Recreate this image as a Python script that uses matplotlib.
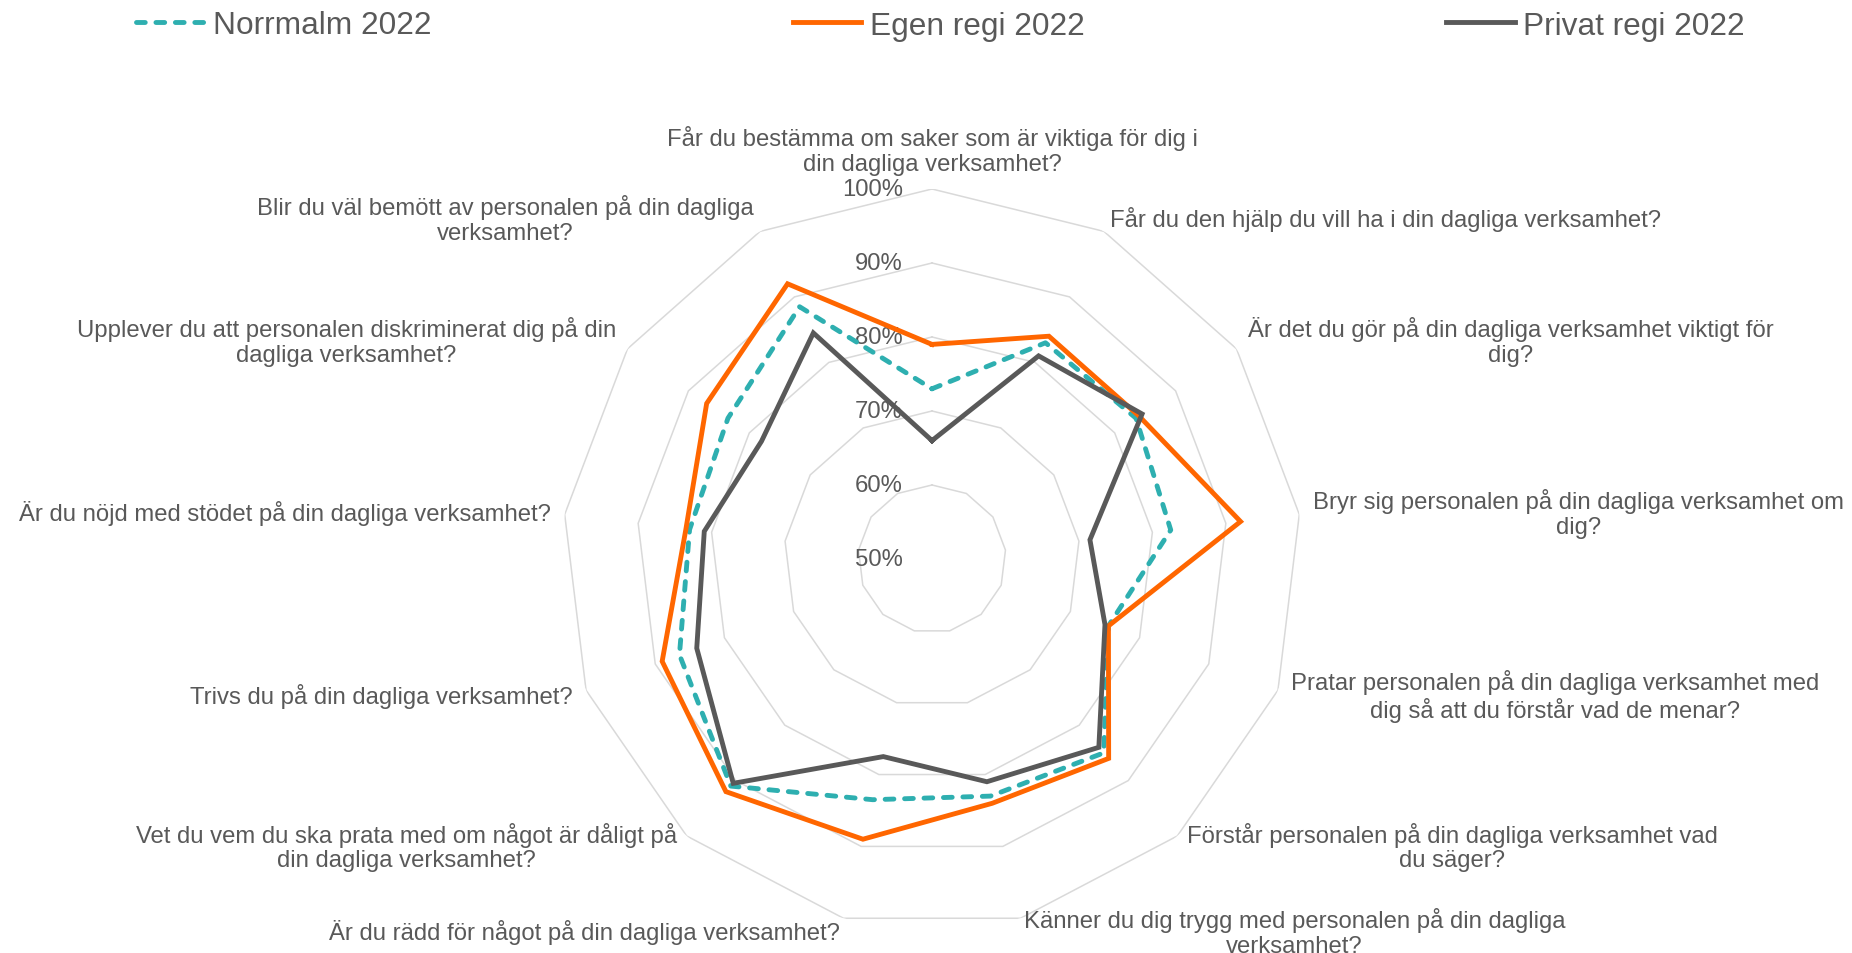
import numpy as np
import matplotlib
matplotlib.use("Agg")
import matplotlib.pyplot as plt
from matplotlib.transforms import ScaledTranslation

# ---------------- data ----------------
categories = [
    "Får du bestämma om saker som är viktiga för dig i\ndin dagliga verksamhet?",
    "Får du den hjälp du vill ha i din dagliga verksamhet?",
    "Är det du gör på din dagliga verksamhet viktigt för\ndig?",
    "Bryr sig personalen på din dagliga verksamhet om\ndig?",
    "Pratar personalen på din dagliga verksamhet med\ndig så att du förstår vad de menar?",
    "Förstår personalen på din dagliga verksamhet vad\ndu säger?",
    "Känner du dig trygg med personalen på din dagliga\nverksamhet?",
    "Är du rädd för något på din dagliga verksamhet?",
    "Vet du vem du ska prata med om något är dåligt på\ndin dagliga verksamhet?",
    "Trivs du på din dagliga verksamhet?",
    "Är du nöjd med stödet på din dagliga verksamhet?",
    "Upplever du att personalen diskriminerat dig på din\ndagliga verksamhet?",
    "Blir du väl bemött av personalen på din dagliga\nverksamhet?",
]
norrmalm = [0.73, 0.83, 0.835, 0.825, 0.755, 0.85, 0.83, 0.835, 0.91, 0.865, 0.83, 0.835, 0.885]
egen_regi = [0.79, 0.84, 0.84, 0.92, 0.755, 0.86, 0.84, 0.89, 0.92, 0.89, 0.835, 0.87, 0.92]
privat_regi = [0.66, 0.81, 0.845, 0.715, 0.75, 0.84, 0.81, 0.775, 0.905, 0.84, 0.81, 0.78, 0.845]
series_names = ["Norrmalm 2022", "Egen regi 2022", "Privat regi 2022"]
r_ticks = [0.5, 0.6, 0.7, 0.8, 0.9, 1.0]
r_tick_labels = ["50%", "60%", "70%", "80%", "90%", "100%"]

# ---------------- style ----------------
TEXT = "#595959"
GRID = "#D9D9D9"
COLORS = ["#2EAFB0", "#FF6600", "#595959"]
FONT = "Liberation Sans"
plt.rcParams["font.family"] = [FONT, "DejaVu Sans"]

W, H, DPI = 1852, 954, 100
fig = plt.figure(figsize=(W / DPI, H / DPI), dpi=DPI)
cx, cy, R = 932, 560, 370  # pixel layout of the radar
ax = fig.add_axes([(cx - R) / W, (H - cy - R) / H, 2 * R / W, 2 * R / H], projection="polar")
ax.set_theta_zero_location("N")
ax.set_theta_direction(-1)
ax.set_ylim(r_ticks[0], r_ticks[-1])
ax.grid(False)
ax.set_xticks([])
ax.set_yticks([])
ax.spines["polar"].set_visible(False)
ax.patch.set_visible(False)

n = len(categories)
theta = np.arange(n) * 2 * np.pi / n
theta_c = np.append(theta, theta[0])

# polygon gridlines
for r in r_ticks[1:]:
    ax.plot(theta_c, [r] * (n + 1), color=GRID, lw=1.1, zorder=1, solid_joinstyle="miter")

# series
styles = [dict(ls=(0, (1.8, 2.2)), dash_capstyle="round"), dict(ls="-"), dict(ls="-")]
handles = []
for vals, col, st, name in zip([norrmalm, egen_regi, privat_regi], COLORS, styles, series_names):
    v = np.append(vals, vals[0])
    h, = ax.plot(theta_c, v, color=col, lw=3.5, zorder=3, label=name,
                 solid_joinstyle="miter", **st)
    handles.append(h)

LABEL_FS = 17.2

# radial tick labels
off = ScaledTranslation(-29 / DPI, 0, fig.dpi_scale_trans)
for r, lab in zip(r_ticks, r_tick_labels):
    ax.text(0, r, lab, transform=ax.transData + off, ha="right", va="center",
            fontsize=LABEL_FS, color=TEXT, zorder=2, clip_on=False)

# category labels
pad = 14
for t, lab in zip(theta, categories):
    s, c = np.sin(t), np.cos(t)
    tr = ax.transData + ScaledTranslation(pad * s / DPI, pad * c / DPI, fig.dpi_scale_trans)
    ha = "left" if s > 0.05 else ("right" if s < -0.05 else "center")
    va = "bottom" if c > 0.95 else "center"
    ax.text(t, r_ticks[-1], lab, transform=tr, ha=ha, va=va, multialignment="center",
            fontsize=LABEL_FS, color=TEXT, zorder=2, clip_on=False, linespacing=1.16)

# legend
leg = ax.legend(handles=handles, loc="center left", bbox_to_anchor=(136 / W, 1 - 26.5 / H),
                bbox_transform=fig.transFigure, ncol=3, frameon=False, fontsize=22.8,
                handlelength=2.15, handletextpad=0.28, columnspacing=11.42,
                borderaxespad=0, borderpad=0)
for t in leg.get_texts():
    t.set_color(TEXT)

fig.savefig("out.png", dpi=DPI)
